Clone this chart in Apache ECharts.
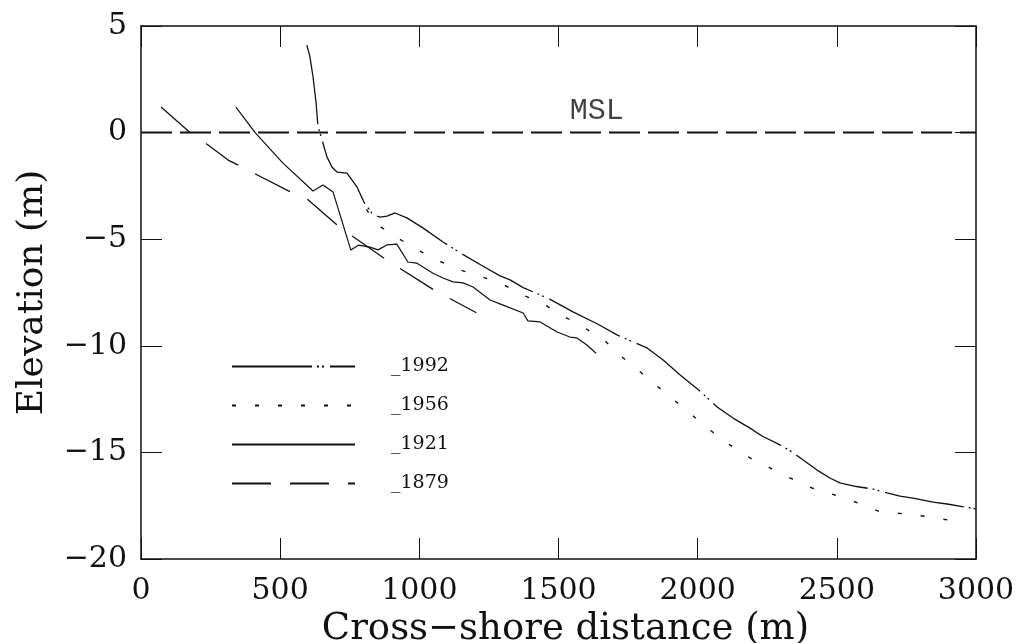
<!DOCTYPE html>
<html>
<head>
<meta charset="utf-8">
<script src="https://cdn.jsdelivr.net/npm/echarts@6/dist/echarts.min.js"></script>
<style>
html,body{margin:0;padding:0;background:#fff;}
#chart{width:1018px;height:643px;}
</style>
</head>
<body>
<div id="chart"></div>
<script>
// ---- data ----
const seriesNames = ['1992', '1956', '1921', '1879'];

const x1992 = [596, 607, 618, 629, 636, 643, 654, 668, 686, 704, 740, 776, 801, 834, 859, 884, 913, 955, 1014, 1085, 1153, 1229, 1290, 1326, 1373, 1423, 1470, 1552, 1642, 1710, 1768, 1818, 1876, 1937, 2008, 2070, 2127, 2188, 2231, 2296, 2339, 2379, 2429, 2475, 2511, 2570, 2630, 2680, 2727, 2774, 2846, 2896, 3000];
const y1992 = [4.1, 3.55, 2.62, 1.4, 0.26, 0.0, -0.5, -1.14, -1.61, -1.85, -1.9, -2.55, -3.26, -3.87, -3.96, -3.92, -3.77, -4.0, -4.48, -5.13, -5.69, -6.27, -6.72, -6.91, -7.27, -7.55, -7.82, -8.41, -8.99, -9.49, -9.82, -10.1, -10.67, -11.37, -12.12, -12.87, -13.39, -13.86, -14.23, -14.65, -14.98, -15.36, -15.83, -16.2, -16.43, -16.6, -16.72, -16.9, -17.05, -17.14, -17.33, -17.42, -17.65];

const x1956 = [810, 841, 916, 988, 1056, 1135, 1218, 1297, 1373, 1452, 1523, 1595, 1667, 1728, 1793, 1858, 1950, 2044, 2116, 2188, 2260, 2332, 2411, 2493, 2576, 2655, 2752, 2835, 2960];
const y1956 = [-3.6, -4.24, -4.9, -5.46, -5.93, -6.4, -6.73, -7.1, -7.62, -8.09, -8.65, -9.17, -9.77, -10.52, -11.22, -11.93, -12.92, -13.95, -14.65, -15.26, -15.73, -16.2, -16.67, -17.0, -17.37, -17.79, -17.89, -18.03, -18.3];

const x1921 = [341, 410, 510, 618, 654, 690, 754, 781, 822, 852, 883, 919, 959, 990, 1049, 1085, 1121, 1157, 1193, 1254, 1301, 1373, 1390, 1434, 1495, 1541, 1566, 1602, 1635];
const y1921 = [1.2, 0, -1.43, -2.74, -2.46, -2.79, -5.51, -5.28, -5.37, -5.5, -5.27, -5.23, -6.07, -6.12, -6.6, -6.82, -7.0, -7.05, -7.24, -7.85, -8.09, -8.46, -8.83, -8.88, -9.35, -9.59, -9.63, -9.96, -10.35];

const x1879 = [72, 176, 241, 313, 356, 420, 540, 600, 715, 885, 1055, 1205];
const y1879 = [1.2, 0, -0.58, -1.29, -1.57, -2.0, -2.8, -3.15, -4.45, -6.0, -7.4, -8.45];

const xMSL = [0, 3000];
const yMSL = [0, 0];
const mslText = 'MSL';

const xTicks = [0, 500, 1000, 1500, 2000, 2500, 3000];
const yTicks = [5, 0, -5, -10, -15, -20];

const xTitle = 'Cross\u2212shore distance (m)';
const yTitle = 'Elevation (m)';

// ---- build ----
const zip = (xs, ys) => xs.map((x, i) => [x, ys[i]]);
const INK = '#111';
const SERIF = 'DejaVu Serif';
const minus = v => String(v).replace('-', '\u2212');

const styles = {
  '1992': { type: [80, 5, 2, 3, 2, 6], width: 1.3 },
  '1956': { type: [4, 19], width: 1.4 },
  '1921': { type: 'solid', width: 1.2 },
  '1879': { type: [39, 19], width: 1.3 }
};
const dataMap = {
  '1992': zip(x1992, y1992),
  '1956': zip(x1956, y1956),
  '1921': zip(x1921, y1921),
  '1879': zip(x1879, y1879)
};

const baseAxisCommon = {
  axisLine: { show: true, onZero: false, lineStyle: { color: INK, width: 1.5 } },
  axisTick: { show: true, inside: true, length: 21, lineStyle: { color: INK, width: 1 } },
  splitLine: { show: false }
};

const series = seriesNames.map(n => ({
  name: n,
  type: 'line',
  data: dataMap[n],
  symbol: 'none',
  smooth: false,
  lineStyle: { color: INK, width: styles[n].width, type: styles[n].type, cap: 'butt' },
  itemStyle: { color: INK },
  z: 3,
  animation: false
}));

series.push({
  name: 'MSL',
  type: 'line',
  data: zip(xMSL, yMSL),
  symbol: 'none',
  lineStyle: { color: INK, width: 2, type: [31, 8] },
  z: 2,
  animation: false
});

series.push({
  name: 'MSLlabel',
  type: 'scatter',
  data: [[1637, 1.0]],
  symbolSize: 1,
  itemStyle: { color: 'rgba(0,0,0,0)' },
  label: {
    show: true, position: 'inside', formatter: mslText,
    fontFamily: 'Liberation Mono', fontSize: 30, color: INK
  },
  silent: true,
  animation: false
});

const chart = echarts.init(document.getElementById('chart'), null, { renderer: 'canvas' });
chart.setOption({
  backgroundColor: '#fff',
  animation: false,
  grid: { left: 141, right: 42, top: 26, bottom: 84, containLabel: false, outerBoundsMode: 'none' },
  legend: {
    data: seriesNames,
    orient: 'vertical',
    left: 226,
    top: 352,
    itemWidth: 123,
    itemHeight: 20,
    itemGap: 20,
    itemStyle: { opacity: 0 },
    formatter: n => '_' + n,
    textStyle: { fontFamily: SERIF, fontSize: 19, color: INK, padding: [0, 0, 0, 31] },
    selectedMode: false
  },
  xAxis: [
    Object.assign({}, baseAxisCommon, {
      type: 'value', min: xTicks[0], max: xTicks[xTicks.length - 1], interval: 500,
      position: 'bottom',
      name: xTitle, nameLocation: 'middle', nameGap: 46,
      nameTextStyle: { fontFamily: SERIF, fontSize: 37, color: INK, padding: [0, 0, 0, 14] },
      axisLabel: { show: true, fontFamily: SERIF, fontSize: 30, color: INK, margin: 17, formatter: v => String(v) }
    }),
    Object.assign({}, baseAxisCommon, {
      type: 'value', min: xTicks[0], max: xTicks[xTicks.length - 1], interval: 500,
      position: 'top', axisLabel: { show: false }
    })
  ],
  yAxis: [
    Object.assign({}, baseAxisCommon, {
      type: 'value', min: yTicks[yTicks.length - 1], max: yTicks[0], interval: 5,
      position: 'left',
      name: yTitle, nameLocation: 'middle', nameGap: 90, nameRotate: 90,
      nameTextStyle: { fontFamily: SERIF, fontSize: 36, color: INK },
      axisLabel: { show: true, fontFamily: SERIF, fontSize: 30, color: INK, margin: 14, formatter: minus }
    }),
    Object.assign({}, baseAxisCommon, {
      type: 'value', min: yTicks[yTicks.length - 1], max: yTicks[0], interval: 5,
      position: 'right', axisLabel: { show: false }
    })
  ],
  series: series
});
</script>
</body>
</html>
